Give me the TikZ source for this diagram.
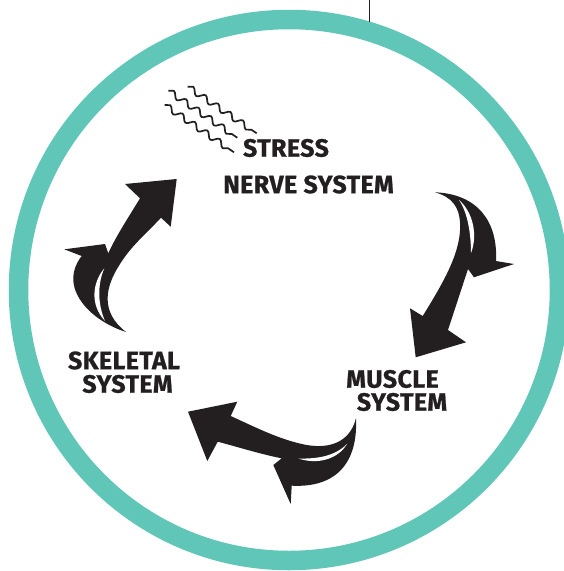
\documentclass[tikz,border=0pt]{standalone}
\usepackage{fontspec}
\setmainfont{Fira Sans}[BoldFeatures={FakeBold=0.9},LetterSpace=1.6]
\usetikzlibrary{decorations.pathmorphing}
\definecolor{ringteal}{HTML}{5FC6B8}
\definecolor{inkblack}{HTML}{231F20}
\tikzset{
  lbl/.style={font=\bfseries\fontsize{25}{25}\selectfont,text=inkblack,inner sep=0pt,anchor=center},
  arrowshape/.style={fill=inkblack,draw=none},
  sliver/.style={fill=white,draw=none},
  wave/.style={draw=inkblack,line width=1.7,decorate,decoration={snake,segment length=15pt,amplitude=3pt}}
}
\begin{document}
\begin{tikzpicture}[x=1pt,y=-1pt]
\useasboundingbox (0,0) rectangle (564,571);
\clip (0,0) rectangle (564,571);
\fill[white] (0,0) rectangle (564,571);
% ring
\draw[ringteal,line width=19.5pt] (289,290) circle (270.5pt);
\draw[inkblack,line width=0.9pt] (369,0) -- (369,22);
% wavy stress lines
\coordinate (w1a) at (187.7,86.7); \coordinate (w1b) at (256.7,133.3);
\coordinate (w2a) at (168.3,90.7); \coordinate (w2b) at (237.3,137.7);
\coordinate (w3a) at (164.7,105);  \coordinate (w3b) at (234,152.3);
\draw[wave] (w1a) -- (w1b);
\draw[wave] (w2a) -- (w2b);
\draw[wave] (w3a) -- (w3b);
% right arrow
\fill[arrowshape] (435,192.3) .. controls (478,194) and (498,222) .. (496,261)
  -- (514,264) -- (474,277.3) -- (468,269) -- (448,330) -- (466,342.3)
  -- (415.7,357.3) -- (410,308.3) -- (422.7,316)
  .. controls (445,280) and (462,250) .. (460,222)
  .. controls (459,207) and (452,197) .. (435,192.3) -- cycle;
\fill[sliver] (459,200) .. controls (473,212) and (478,235) .. (471,253)
  .. controls (471,235) and (468,213) .. (459,200) -- cycle;
% bottom arrow
\fill[arrowshape] (356,418.3) .. controls (358,462) and (337,488) .. (291.7,485.7)
  -- (290.7,504) -- (273.3,465) -- (281.7,458.3) .. controls (260,454) and (238,447) .. (217.7,441.7)
  -- (207.3,461) -- (188,411.7) -- (237.3,401.7) -- (230.7,416)
  .. controls (255,427) and (280,440) .. (306.7,445)
  .. controls (330,449) and (350,442) .. (356,418.3) -- cycle;
\fill[sliver] (298.3,458.5) .. controls (318,459) and (335,456) .. (347,444)
  .. controls (338,459) and (318,465) .. (298.3,458.5) -- cycle;
% left arrow
\fill[arrowshape] (126,332) .. controls (95,322) and (74,300) .. (73.3,280)
  .. controls (73,270) and (77,262) .. (81.7,256) -- (64.3,249.3) -- (105,244)
  -- (108.3,253.3) .. controls (115,238) and (128,218) .. (140,198.3)
  -- (125,184) -- (176.7,179) -- (170.7,226.7) -- (161,217.7)
  .. controls (145,235) and (132,245) .. (120,264)
  .. controls (105,287) and (100,312) .. (126,332) -- cycle;
\fill[sliver] (104.3,268.3) .. controls (92,283) and (90,305) .. (105,321)
  .. controls (98,305) and (97,285) .. (104.3,268.3) -- cycle;
% labels
\node[lbl] (stress) at (286,148) {STRESS};
\node[lbl] (nerve) at (308.5,184.5) {NERVE SYSTEM};
\node[lbl] (skel) at (124,360.5) {SKELETAL};
\node[lbl] (skelb) at (127.5,384) {SYSTEM};
\node[lbl] (musc) at (392.5,379) {MUSCLE};
\node[lbl] (muscb) at (402,402) {SYSTEM};
\end{tikzpicture}
\end{document}
